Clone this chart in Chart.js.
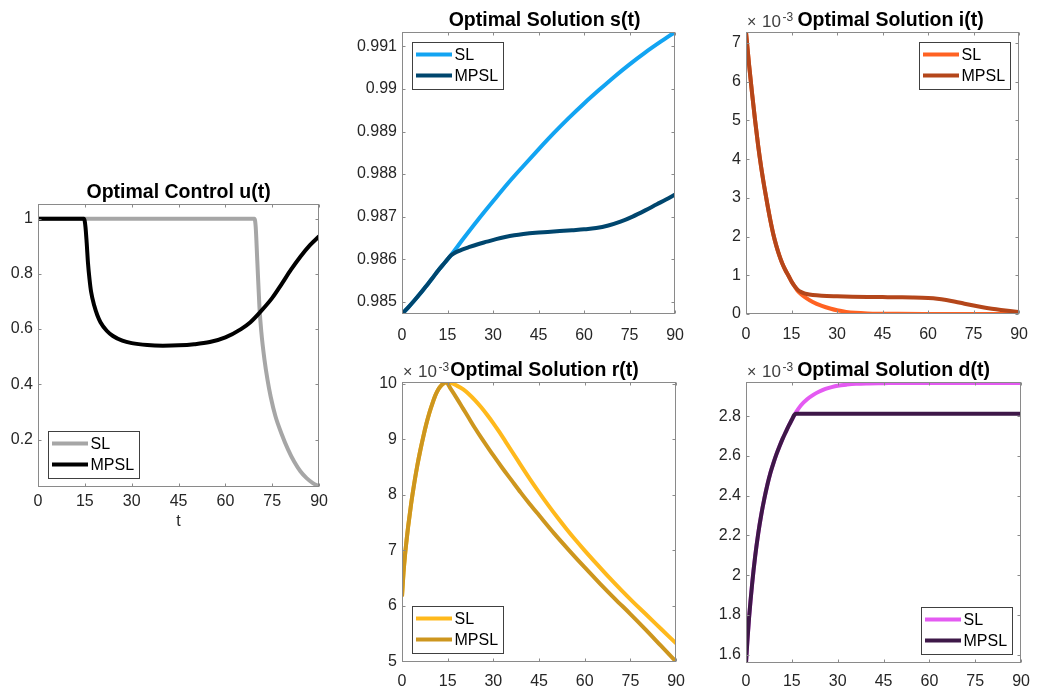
<!DOCTYPE html>
<html>
<head>
<meta charset="utf-8">
<script src="https://cdn.jsdelivr.net/npm/chart.js@4.4.1/dist/chart.umd.min.js"></script>
<style>
html,body{margin:0;padding:0;background:#fff;overflow:hidden;width:1039px;height:693px;}
canvas{position:absolute;}
</style>
</head>
<body>
<canvas id="cu"></canvas>
<canvas id="cs"></canvas>
<canvas id="ci"></canvas>
<canvas id="cr"></canvas>
<canvas id="cd"></canvas>
<script>
// ---------------- data ----------------
const tTicks = [0, 15, 30, 45, 60, 75, 90];

// Optimal Control u(t)
const uSL_t   = [0, 69.3, 69.7, 70.2, 70.9, 71.5, 72.5, 73.5, 74.5, 76, 78, 80, 82, 84, 86, 88, 90];
const uSL     = [1, 1, 0.97, 0.85, 0.68, 0.59, 0.49, 0.415, 0.355, 0.285, 0.22, 0.165, 0.12, 0.085, 0.06, 0.042, 0.03];
const uMPSL_t = [0, 14.7, 15.2, 15.6, 16, 16.5, 17, 18, 19, 20, 22, 24, 27, 30, 35, 40, 45, 50, 55, 60, 65, 68, 71, 75, 78, 81, 84, 87, 90];
const uMPSL   = [1, 1, 0.97, 0.91, 0.84, 0.78, 0.735, 0.685, 0.65, 0.625, 0.594, 0.575, 0.558, 0.549, 0.542, 0.54, 0.541, 0.545, 0.553, 0.57, 0.6, 0.625, 0.66, 0.713, 0.763, 0.815, 0.862, 0.903, 0.936];
const uTicks  = [0.2, 0.4, 0.6, 0.8, 1];
const uLabels = ['0.2', '0.4', '0.6', '0.8', '1'];

// Optimal Solution s(t)
const sSL_t   = [0, 2, 4, 6, 8, 10, 12, 14, 16, 20, 25, 30, 35, 40, 45, 50, 55, 60, 65, 70, 75, 80, 85, 90];
const sSL     = [0.98471, 0.98486, 0.98502, 0.98519, 0.98537, 0.98555, 0.98574, 0.98591, 0.98608, 0.98646, 0.98692, 0.98736, 0.98779, 0.98819, 0.98858, 0.98896, 0.98932, 0.98966, 0.98998, 0.99029, 0.99058, 0.99085, 0.9911, 0.99134];
const sMPSL_t = [0, 2, 4, 6, 8, 10, 12, 14, 16, 17, 18, 20, 22, 25, 28, 31, 34, 37, 40, 44, 48, 52, 56, 60, 64, 68, 72, 76, 80, 84, 87, 90];
const sMPSL   = [0.98471, 0.98486, 0.98502, 0.98519, 0.98537, 0.98555, 0.98574, 0.98591, 0.98608, 0.98613, 0.98617, 0.98623, 0.98628, 0.98635, 0.98641, 0.98647, 0.98652, 0.98656, 0.98659, 0.98662, 0.98664, 0.98666, 0.98668, 0.9867, 0.98673, 0.98679, 0.98688, 0.987, 0.98714, 0.98729, 0.9874, 0.98752];
const sTicks  = [0.985, 0.986, 0.987, 0.988, 0.989, 0.99, 0.991];
const sLabels = ['0.985', '0.986', '0.987', '0.988', '0.989', '0.99', '0.991'];

// Optimal Solution i(t)  (x 10^-3)
const iSL_t   = [0, 1, 2, 3, 4, 5, 6, 7, 8, 9, 10, 11, 12, 13, 14, 15, 16, 17, 18, 19.5, 22, 25, 28, 30, 33, 36, 40, 45, 50, 60, 70, 80, 90];
const iSL     = [7.28, 6.45, 5.7, 5.0, 4.35, 3.79, 3.3, 2.85, 2.43, 2.06, 1.76, 1.51, 1.3, 1.13, 0.99, 0.84, 0.72, 0.6, 0.52, 0.43, 0.31, 0.21, 0.135, 0.095, 0.055, 0.032, 0.016, 0.008, 0.004, 0.0015, 0.0008, 0.0005, 0.0003];
const iMPSL_t = [0, 1, 2, 3, 4, 5, 6, 7, 8, 9, 10, 11, 12, 13, 14, 15, 16, 17, 18, 19, 20, 22, 25, 30, 35, 40, 45, 50, 55, 60, 63, 66, 69, 72, 75, 78, 81, 84, 87, 90];
const iMPSL   = [7.28, 6.45, 5.7, 5.0, 4.35, 3.79, 3.3, 2.85, 2.43, 2.06, 1.76, 1.51, 1.3, 1.13, 0.99, 0.84, 0.72, 0.63, 0.575, 0.54, 0.515, 0.49, 0.472, 0.458, 0.448, 0.441, 0.436, 0.431, 0.425, 0.412, 0.395, 0.362, 0.317, 0.266, 0.218, 0.174, 0.137, 0.105, 0.077, 0.052];
const iTicks  = [0, 1, 2, 3, 4, 5, 6, 7];
const iLabels = ['0', '1', '2', '3', '4', '5', '6', '7'];

// Optimal Solution r(t)  (x 10^-3)
const rSL_t   = [0, 0.5, 1, 1.5, 2, 3, 4, 5, 6, 7, 8, 9, 10, 11, 12, 13, 14, 14.5, 16, 18, 20, 22, 24, 26, 28, 30, 32, 34, 36, 38, 40, 42, 45, 48, 51, 54, 57, 60, 64, 68, 72, 76, 80, 85, 90];
const rSL     = [6.17, 6.6, 6.92, 7.18, 7.42, 7.84, 8.2, 8.52, 8.8, 9.05, 9.28, 9.48, 9.65, 9.8, 9.91, 9.98, 10.02, 10.03, 10.02, 9.97, 9.905, 9.815, 9.705, 9.58, 9.44, 9.29, 9.13, 8.96, 8.79, 8.62, 8.45, 8.285, 8.045, 7.815, 7.595, 7.385, 7.185, 6.995, 6.75, 6.51, 6.28, 6.06, 5.85, 5.585, 5.32];
const rMPSL_t = [0, 0.5, 1, 1.5, 2, 3, 4, 5, 6, 7, 8, 9, 10, 11, 12, 13, 14, 14.5, 16, 18, 20, 22, 24, 26, 28, 30, 33, 36, 39, 42, 45, 50, 55, 60, 65, 70, 75, 80, 85, 90];
const rMPSL   = [6.17, 6.6, 6.92, 7.18, 7.42, 7.84, 8.2, 8.52, 8.8, 9.05, 9.28, 9.48, 9.65, 9.8, 9.91, 9.98, 10.02, 10.03, 9.91, 9.74, 9.56, 9.38, 9.2, 9.03, 8.87, 8.71, 8.48, 8.26, 8.04, 7.83, 7.63, 7.3, 6.99, 6.69, 6.4, 6.12, 5.85, 5.57, 5.28, 4.99];
const rTicks  = [5, 6, 7, 8, 9, 10];
const rLabels = ['5', '6', '7', '8', '9', '10'];

// Optimal Solution d(t)  (x 10^-3)
const dSL_t   = [0, 0.5, 1, 2, 3, 4, 5, 6, 7, 8, 9, 10, 11, 12, 13, 14, 15, 16, 17, 18, 20, 22, 24, 26, 28, 30, 33, 36, 40, 45, 50, 60, 70, 80, 90];
const dSL     = [1.558, 1.68, 1.785, 1.955, 2.095, 2.21, 2.305, 2.385, 2.455, 2.515, 2.565, 2.61, 2.65, 2.687, 2.72, 2.752, 2.782, 2.81, 2.834, 2.855, 2.885, 2.907, 2.924, 2.937, 2.946, 2.953, 2.959, 2.963, 2.965, 2.966, 2.967, 2.967, 2.967, 2.967, 2.967];
const dMPSL_t = [0, 0.5, 1, 2, 3, 4, 5, 6, 7, 8, 9, 10, 11, 12, 13, 14, 15, 15.8, 16.3, 90];
const dMPSL   = [1.558, 1.68, 1.785, 1.955, 2.095, 2.21, 2.305, 2.385, 2.455, 2.515, 2.565, 2.61, 2.65, 2.687, 2.72, 2.752, 2.782, 2.806, 2.812, 2.812];
const dTicks  = [1.6, 1.8, 2, 2.2, 2.4, 2.6, 2.8];
const dLabels = ['1.6', '1.8', '2', '2.2', '2.4', '2.6', '2.8'];

// ---------------- drawing ----------------
const FONT = '"Liberation Sans", Arial, Helvetica, sans-serif';
Chart.defaults.font.family = FONT;

const matlabPlugin = {
  id: 'matlab',
  afterDatasetsDraw(chart, args, opts) {
    const {ctx, chartArea: a, scales} = chart;
    ctx.save();
    // axes box
    ctx.strokeStyle = '#8a8a8a';
    ctx.lineWidth = 1;
    const L = Math.round(a.left) + 0.5, R = Math.round(a.right) - 0.5;
    const T = Math.round(a.top) + 0.5, B = Math.round(a.bottom) - 0.5;
    ctx.strokeRect(L, T, R - L, B - T);
    // inward ticks on all four sides
    const tl = 3;
    ctx.beginPath();
    scales.x.ticks.forEach(tk => {
      const px = Math.round(scales.x.getPixelForValue(tk.value)) + 0.5;
      ctx.moveTo(px, B); ctx.lineTo(px, B - tl);
      ctx.moveTo(px, T); ctx.lineTo(px, T + tl);
    });
    scales.y.ticks.forEach(tk => {
      const py = Math.round(scales.y.getPixelForValue(tk.value)) + 0.5;
      ctx.moveTo(L, py); ctx.lineTo(L + tl, py);
      ctx.moveTo(R, py); ctx.lineTo(R - tl, py);
    });
    ctx.stroke();

    // legend
    const bw = 91, bh = 47, m = 9.5;
    const corner = opts.legend;
    const bx = Math.round(corner.indexOf('l') >= 0 ? a.left + m : a.right - m - bw);
    const by = Math.round(corner.indexOf('t') >= 0 ? a.top + m : a.bottom - m - bh);
    ctx.fillStyle = '#ffffff';
    ctx.fillRect(bx, by, bw, bh);
    ctx.strokeStyle = '#404040';
    ctx.lineWidth = 1;
    ctx.strokeRect(bx + 0.5, by + 0.5, bw, bh);
    chart.data.datasets.forEach((ds, k) => {
      const y = by + 12.5 + k * 21;
      ctx.strokeStyle = ds.borderColor;
      ctx.lineWidth = 4;
      ctx.beginPath();
      ctx.moveTo(bx + 4, y); ctx.lineTo(bx + 40, y);
      ctx.stroke();
      ctx.fillStyle = '#000000';
      ctx.font = '16px ' + FONT;
      ctx.textAlign = 'left';
      ctx.textBaseline = 'middle';
      ctx.fillText(ds.label, bx + 42.5, y + 1);
    });

    // exponent label
    if (opts.exponent) {
      ctx.fillStyle = '#404040';
      ctx.textAlign = 'left';
      ctx.textBaseline = 'alphabetic';
      ctx.font = '16px ' + FONT;
      ctx.fillText('\u00d7', a.left + 1, a.top - 5);
      ctx.font = '17px ' + FONT;
      ctx.fillText('10', a.left + 16, a.top - 5);
      ctx.font = '12px ' + FONT;
      ctx.fillText(opts.exponent, a.left + 36.5, a.top - 11);
    }

    // title
    ctx.fillStyle = '#000000';
    ctx.font = 'bold 19.5px ' + FONT;
    ctx.textAlign = 'center';
    ctx.textBaseline = 'alphabetic';
    ctx.fillText(opts.title, (a.left + a.right) / 2 + opts.titleDx, a.top - 6);
    ctx.restore();
  }
};

function pts(ts, vs) { return ts.map((t, i) => ({x: t, y: vs[i]})); }
function labelFor(ticks, labels, v) {
  for (let i = 0; i < ticks.length; i++) if (Math.abs(ticks[i] - v) < 1e-9) return labels[i];
  return '';
}

function makeChart(id, area, spec) {
  const yW = Math.min(60, area.L);
  const topPad = 45;
  const bottomH = spec.xTitle ? 50 : 40;
  const rightPad = 12;
  const cv = document.getElementById(id);
  const w = (area.R - area.L) + yW + rightPad;
  const h = (area.B - area.T) + topPad + bottomH;
  cv.width = w; cv.height = h;
  cv.style.left = (area.L - yW) + 'px';
  cv.style.top = (area.T - topPad) + 'px';
  cv.style.width = w + 'px';
  cv.style.height = h + 'px';
  const n = spec.series.length;
  return new Chart(cv, {
    type: 'line',
    data: {
      datasets: spec.series.map((s, k) => ({
        label: s.label,
        data: pts(s.t, s.v),
        borderColor: s.color,
        backgroundColor: s.color,
        borderWidth: 4,
        pointRadius: 0,
        pointHoverRadius: 0,
        fill: false,
        cubicInterpolationMode: 'monotone',
        clip: 0,
        order: n - k
      }))
    },
    options: {
      responsive: false,
      animation: false,
      events: [],
      layout: {padding: {top: topPad, right: rightPad, left: 0, bottom: 0}},
      plugins: {
        legend: {display: false},
        tooltip: {enabled: false},
        matlab: {title: spec.title, titleDx: spec.titleDx, legend: spec.legend, exponent: spec.exponent}
      },
      scales: {
        x: {
          type: 'linear', min: 0, max: 90, bounds: 'data',
          afterBuildTicks: sc => { sc.ticks = tTicks.map(v => ({value: v})); },
          afterFit: sc => { sc.height = bottomH; },
          ticks: {font: {size: 16}, color: '#262626', padding: spec.xPad, maxRotation: 0, autoSkip: false,
                  callback: v => String(v)},
          grid: {display: false, drawTicks: false},
          border: {display: false},
          title: spec.xTitle ? {display: true, text: spec.xTitle, font: {size: 16}, color: '#262626',
                                padding: {top: 0, bottom: 6}} : {display: false}
        },
        y: {
          type: 'linear', min: spec.yMin, max: spec.yMax, bounds: 'data',
          afterBuildTicks: sc => { sc.ticks = spec.yTicks.map(v => ({value: v})); },
          afterFit: sc => { sc.width = yW; },
          ticks: {font: {size: 16}, color: '#262626', padding: 5, autoSkip: false,
                  callback: v => labelFor(spec.yTicks, spec.yLabels, v)},
          grid: {display: false, drawTicks: false},
          border: {display: false}
        }
      }
    },
    plugins: [matlabPlugin]
  });
}

makeChart('cu', {L: 38, T: 204, R: 321, B: 487}, {
  title: 'Optimal Control u(t)', titleDx: 0, legend: 'bl', xTitle: 't', xPad: 5,
  yMin: 0.028, yMax: 1.053, yTicks: uTicks, yLabels: uLabels,
  series: [
    {label: 'SL', t: uSL_t, v: uSL, color: '#a6a6a6'},
    {label: 'MPSL', t: uMPSL_t, v: uMPSL, color: '#000000'}
  ]
});

makeChart('cs', {L: 402, T: 32, R: 684, B: 314}, {
  title: 'Optimal Solution s(t)', titleDx: 6, legend: 'tl', xPad: 12,
  yMin: 0.98471, yMax: 0.99134, yTicks: sTicks, yLabels: sLabels,
  series: [
    {label: 'SL', t: sSL_t, v: sSL, color: '#12a4f2'},
    {label: 'MPSL', t: sMPSL_t, v: sMPSL, color: '#00466e'}
  ]
});

makeChart('ci', {L: 746, T: 32, R: 1027, B: 314}, {
  title: 'Optimal Solution i(t)', titleDx: 8, legend: 'tr', xPad: 11, exponent: '-3',
  yMin: 0, yMax: 7.285, yTicks: iTicks, yLabels: iLabels,
  series: [
    {label: 'SL', t: iSL_t, v: iSL, color: '#ff6222'},
    {label: 'MPSL', t: iMPSL_t, v: iMPSL, color: '#b4461a'}
  ]
});

makeChart('cr', {L: 402, T: 382, R: 683, B: 662}, {
  title: 'Optimal Solution r(t)', titleDx: 5.5, legend: 'bl', xPad: 10, exponent: '-3',
  yMin: 4.985, yMax: 10.035, yTicks: rTicks, yLabels: rLabels,
  series: [
    {label: 'SL', t: rSL_t, v: rSL, color: '#ffb91c'},
    {label: 'MPSL', t: rMPSL_t, v: rMPSL, color: '#cd961e'}
  ]
});

makeChart('cd', {L: 746, T: 382, R: 1027, B: 663}, {
  title: 'Optimal Solution d(t)', titleDx: 10, legend: 'br', xPad: 9, exponent: '-3',
  yMin: 1.558, yMax: 2.972, yTicks: dTicks, yLabels: dLabels,
  series: [
    {label: 'SL', t: dSL_t, v: dSL, color: '#e45af2'},
    {label: 'MPSL', t: dMPSL_t, v: dMPSL, color: '#3e1848'}
  ]
});
</script>
</body>
</html>
